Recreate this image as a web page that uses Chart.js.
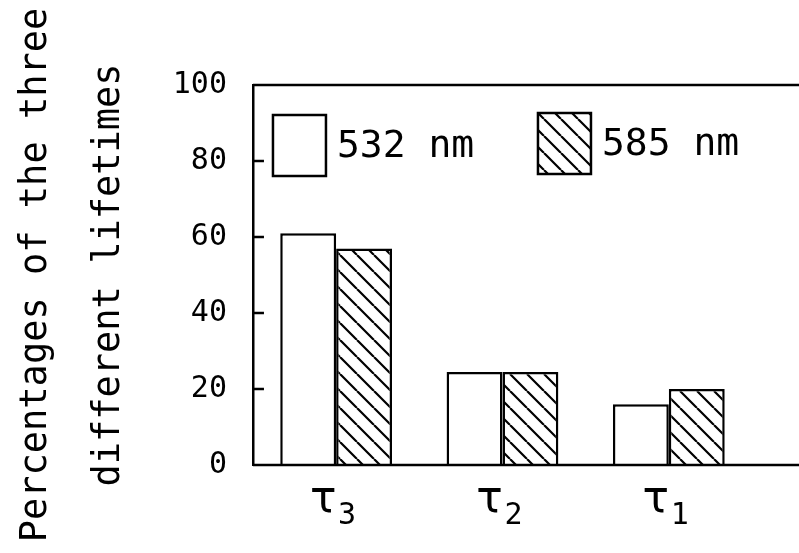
<!DOCTYPE html>
<html>
<head>
<meta charset="utf-8">
<script src="https://cdn.jsdelivr.net/npm/chart.js@4.4.1/dist/chart.umd.min.js"></script>
<style>
  html, body { margin: 0; padding: 0; background: #fff; overflow: hidden; }
  canvas { display: block; }
</style>
</head>
<body>
<canvas id="lifetimeChart" width="799" height="553"></canvas>
<script>
const categories = ["τ3", "τ2", "τ1"];
const values532 = [61, 24.5, 16];
const values585 = [57, 24.5, 20];
const seriesNames = ["532 nm", "585 nm"];
const yTickValues = [0, 20, 40, 60, 80, 100];
const yTitle = ["Percentages of the three", "different lifetimes"];

const monoFont = "'DejaVu Sans Mono', 'Liberation Mono', monospace";
const canvas = document.getElementById("lifetimeChart");
const ctx = canvas.getContext("2d");

// diagonal hatching "\\\" for the second series
function makeHatch() {
  const size = 17;
  const tile = document.createElement("canvas");
  tile.width = size;
  tile.height = size;
  const g = tile.getContext("2d");
  g.fillStyle = "#fff";
  g.fillRect(0, 0, size, size);
  g.strokeStyle = "#000";
  g.lineWidth = 2.2;
  g.beginPath();
  for (let k = -1; k <= 1; k++) {
    g.moveTo(k * size, 0);
    g.lineTo(k * size + size, size);
  }
  g.stroke();
  return ctx.createPattern(tile, "repeat");
}

// top line + x axis run past the right edge like the cropped original, ticks point inwards
const framePlugin = {
  id: "frame",
  afterDatasetsDraw(chart) {
    const c = chart.ctx;
    const y = chart.scales.y;
    const left = chart.chartArea.left;
    c.save();
    c.strokeStyle = "#000";
    c.lineWidth = 2.5;
    c.beginPath();
    [y.max, y.min].forEach(v => {
      const py = y.getPixelForValue(v);
      c.moveTo(left, py);
      c.lineTo(chart.width, py);
    });
    yTickValues.forEach(v => {
      const py = y.getPixelForValue(v);
      c.moveTo(left, py);
      c.lineTo(left + 11, py);
    });
    c.stroke();
    c.restore();
  }
};

const legendPlugin = {
  id: "boxLegend",
  afterDraw(chart) {
    const c = chart.ctx;
    const area = chart.chartArea;
    const boxX = [area.left + 20, area.left + 285];
    const boxTop = [area.top + 30, area.top + 28];
    c.save();
    c.font = "38px " + monoFont;
    c.textBaseline = "middle";
    c.textAlign = "left";
    chart.data.datasets.forEach((ds, i) => {
      const x = boxX[i];
      const top = boxTop[i];
      c.fillStyle = ds.backgroundColor;
      c.fillRect(x, top, 53, 61);
      c.strokeStyle = "#000";
      c.lineWidth = 2.5;
      c.strokeRect(x, top, 53, 61);
      c.fillStyle = "#000";
      c.fillText(ds.label, x + 64, top + 32);
    });
    c.restore();
  }
};

// tau with a big subscript under each pair of bars
const tauLabels = {
  id: "tauLabels",
  afterDraw(chart) {
    const c = chart.ctx;
    const x = chart.scales.x;
    const y0 = chart.scales.y.getPixelForValue(0);
    c.save();
    c.fillStyle = "#000";
    c.textAlign = "center";
    c.textBaseline = "alphabetic";
    chart.data.labels.forEach((lab, i) => {
      const cx = x.getPixelForValue(i);
      c.font = "44px 'DejaVu Sans', sans-serif";
      c.fillText(lab.charAt(0), cx - 13, y0 + 47);
      c.font = "30px " + monoFont;
      c.fillText(lab.slice(1), cx + 11, y0 + 59);
    });
    c.restore();
  }
};

new Chart(ctx, {
  type: "bar",
  data: {
    labels: categories,
    datasets: [{
      label: seriesNames[0],
      data: values532,
      backgroundColor: "#fff",
      borderColor: "#000",
      borderWidth: 2.5,
      barPercentage: 1,
      categoryPercentage: 0.672
    }, {
      label: seriesNames[1],
      data: values585,
      backgroundColor: makeHatch(),
      borderColor: "#000",
      borderWidth: 2.5,
      barPercentage: 1,
      categoryPercentage: 0.672
    }]
  },
  options: {
    responsive: false,
    animation: false,
    devicePixelRatio: 1,
    layout: { padding: { top: 85, right: 47, bottom: 88, left: 0 } },
    plugins: {
      legend: { display: false },
      tooltip: { enabled: false }
    },
    scales: {
      x: {
        grid: { display: false, drawTicks: false },
        border: { display: false },
        ticks: { display: false }
      },
      y: {
        min: 0,
        max: 100,
        afterBuildTicks: scale => { scale.ticks = yTickValues.map(v => ({ value: v })); },
        grid: { display: false, drawTicks: false },
        border: { display: true, color: "#000", width: 2.5 },
        ticks: { color: "#000", padding: 26, font: { family: monoFont, size: 30 } },
        title: {
          display: true,
          text: yTitle,
          color: "#000",
          font: { family: monoFont, size: 37, lineHeight: 1.97 },
          padding: { top: 0, bottom: 1 }
        }
      }
    }
  },
  plugins: [framePlugin, legendPlugin, tauLabels]
});
</script>
</body>
</html>
